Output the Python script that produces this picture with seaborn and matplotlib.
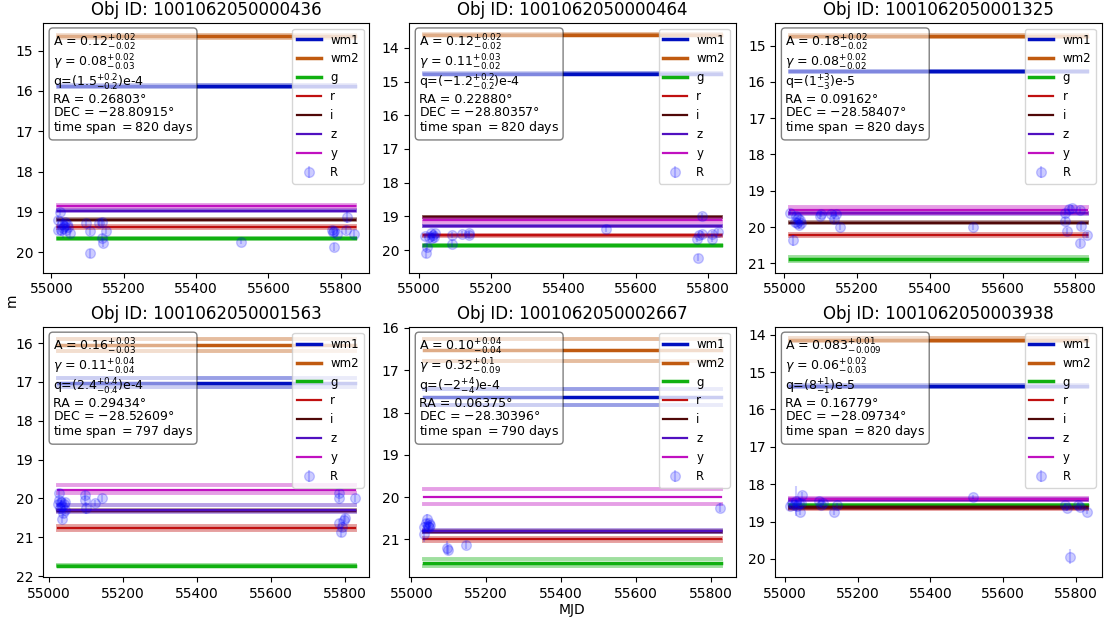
import numpy as np
import pandas as pd
import matplotlib
matplotlib.use("Agg")
import matplotlib.pyplot as plt
import seaborn as sns

# ---- object metadata -------------------------------------------------------
obj_ids = ["1001062050000436", "1001062050000464", "1001062050001325",
           "1001062050001563", "1001062050002667", "1001062050003938"]
ra_deg = [0.26803, 0.22880, 0.09162, 0.29434, 0.06375, 0.16779]
dec_deg = [-28.80915, -28.80357, -28.58407, -28.52609, -28.30396, -28.09734]
span_days = [820, 820, 820, 797, 790, 820]
A_txt = [r"0.12^{+0.02}_{-0.02}", r"0.12^{+0.02}_{-0.02}", r"0.18^{+0.02}_{-0.02}",
         r"0.16^{+0.03}_{-0.03}", r"0.10^{+0.04}_{-0.04}", r"0.083^{+0.01}_{-0.009}"]
gamma_txt = [r"0.08^{+0.02}_{-0.03}", r"0.11^{+0.03}_{-0.02}", r"0.08^{+0.02}_{-0.02}",
             r"0.11^{+0.04}_{-0.04}", r"0.32^{+0.1}_{-0.09}", r"0.06^{+0.02}_{-0.03}"]
q_txt = [r"(1.5^{+0.2}_{-0.2})", r"(-1.2^{+0.2}_{-0.2})", r"(1^{+3}_{-3})",
         r"(2.4^{+0.4}_{-0.4})", r"(-2^{+4}_{-4})", r"(8^{+1}_{-1})"]
q_exp = ["e-4", "e-4", "e-5", "e-4", "e-4", "e-5"]

# model time range per object (MJD)
t_start = [55018, 55015, 55016, 55024, 55034, 55015]
t_end = [55838, 55835, 55832, 55826, 55827, 55830]

# ---- band model levels: median, bright bound, faint bound ------------------
bands = ["wm1", "wm2", "g", "r", "i", "z", "y"]
band_colors = ["#0010c0", "#c05a10", "#10b010", "#c01010", "#500808", "#5010c0", "#c010c0"]
band_lw = [2.5, 2.5, 2.5, 1.6, 1.6, 1.6, 1.6]

mid_436 = [15.88, 14.645, 19.66, 19.37, 19.19, 18.97, 18.86]
lo_436 = [15.86, 14.60, 19.65, 19.35, 19.18, 18.96, 18.82]
hi_436 = [15.90, 14.68, 19.67, 19.39, 19.20, 18.98, 18.89]

mid_464 = [14.77, 13.61, 19.86, 19.56, 19.02, 19.29, 19.12]
lo_464 = [14.75, 13.59, 19.85, 19.55, 19.01, 19.28, 19.07]
hi_464 = [14.79, 13.63, 19.87, 19.57, 19.03, 19.30, 19.17]

mid_1325 = [15.71, 14.73, 20.89, 20.22, 19.88, 19.62, 19.53]
lo_1325 = [15.69, 14.69, 20.84, 20.20, 19.87, 19.61, 19.44]
hi_1325 = [15.73, 14.76, 20.94, 20.24, 19.89, 19.63, 19.62]

mid_1563 = [17.02, 16.05, 21.73, 20.77, 20.32, 20.30, 19.77]
lo_1563 = [16.90, 15.89, 21.72, 20.72, 20.31, 20.17, 19.65]
hi_1563 = [17.13, 16.21, 21.74, 20.82, 20.33, 20.36, 19.87]

mid_2667 = [17.63, 16.51, 21.56, 21.00, 20.82, 20.80, 20.00]
lo_2667 = [17.45, 16.25, 21.46, 20.96, 20.81, 20.78, 19.82]
hi_2667 = [17.83, 16.79, 21.63, 21.04, 20.83, 20.82, 20.17]

mid_3938 = [15.38, 14.15, 18.56, 18.65, 18.62, 18.41, 18.39]
lo_3938 = [15.36, 14.09, 18.55, 18.64, 18.61, 18.40, 18.37]
hi_3938 = [15.40, 14.18, 18.57, 18.66, 18.63, 18.42, 18.41]

# ---- R-band photometry -----------------------------------------------------
tR_436 = [55019, 55018, 55025, 55027, 55030, 55033, 55036, 55038, 55040, 55043, 55045,
          55050, 55095, 55106, 55106, 55132, 55140, 55140, 55142, 55150, 55523, 55775,
          55778, 55782, 55780, 55790, 55817, 55815, 55837]
mR_436 = [19.21, 19.45, 19.00, 19.45, 19.30, 19.40, 19.35, 19.25, 19.45, 19.30, 19.38,
          19.52, 19.27, 19.48, 20.03, 19.27, 19.25, 19.66, 19.78, 19.48, 19.74, 19.45,
          19.50, 19.47, 19.87, 19.54, 19.12, 19.45, 19.54]
eR_436 = [0.10, 0.10, 0.08, 0.15, 0.10, 0.25, 0.10, 0.08, 0.10, 0.10, 0.10,
          0.10, 0.08, 0.10, 0.12, 0.08, 0.10, 0.10, 0.10, 0.08, 0.06, 0.08,
          0.08, 0.10, 0.10, 0.08, 0.15, 0.10, 0.08]

tR_464 = [55018, 55020, 55022, 55030, 55033, 55036, 55040, 55043, 55045, 55093, 55093,
          55120, 55138, 55140, 55518, 55770, 55773, 55775, 55784, 55784, 55811, 55811, 55827]
mR_464 = [19.57, 20.08, 19.90, 19.60, 19.50, 19.65, 19.55, 19.62, 19.50, 19.55, 19.81,
          19.51, 19.50, 19.55, 19.37, 19.66, 20.22, 19.55, 19.00, 19.51, 19.51, 19.66, 19.46]
eR_464 = [0.08, 0.15, 0.12, 0.10, 0.08, 0.10, 0.08, 0.10, 0.08, 0.08, 0.10,
          0.08, 0.08, 0.08, 0.08, 0.10, 0.10, 0.08, 0.10, 0.08, 0.08, 0.10, 0.08]

tR_1325 = [55016, 55023, 55028, 55032, 55035, 55038, 55041, 55044, 55047, 55097, 55100,
           55127, 55136, 55141, 55153, 55520, 55773, 55773, 55777, 55782, 55791, 55814,
           55816, 55814, 55832]
mR_1325 = [19.60, 20.37, 19.85, 19.70, 19.90, 19.75, 19.95, 19.80, 19.90, 19.70, 19.65,
           19.65, 19.78, 19.65, 20.00, 20.00, 19.60, 19.83, 20.10, 19.49, 19.47, 19.52,
           19.97, 20.44, 20.21]
eR_1325 = [0.08, 0.15, 0.10, 0.08, 0.10, 0.08, 0.10, 0.08, 0.10, 0.08, 0.08,
           0.08, 0.10, 0.08, 0.08, 0.08, 0.08, 0.10, 0.08, 0.08, 0.08, 0.08,
           0.10, 0.12, 0.08]

tR_1563 = [55024, 55026, 55028, 55030, 55032, 55034, 55036, 55038, 55040, 55042, 55044,
           55096, 55096, 55099, 55123, 55144, 55784, 55785, 55785, 55788, 55792, 55797,
           55800, 55826]
mR_1563 = [20.15, 19.85, 20.05, 20.25, 20.10, 20.53, 20.20, 20.38, 20.15, 20.30, 20.10,
           20.04, 19.91, 20.25, 20.12, 20.00, 20.00, 19.87, 20.63, 20.86, 20.73, 20.56,
           20.50, 20.00]
eR_1563 = [0.10, 0.10, 0.10, 0.15, 0.10, 0.10, 0.10, 0.12, 0.10, 0.10, 0.10,
           0.10, 0.10, 0.15, 0.08, 0.08, 0.10, 0.10, 0.10, 0.12, 0.12, 0.10,
           0.10, 0.10]

tR_2667 = [55034, 55035, 55040, 55042, 55044, 55046, 55048, 55050, 55095, 55097, 55146, 55826]
mR_2667 = [20.87, 20.71, 20.62, 20.51, 20.68, 20.62, 20.70, 20.66, 21.20, 21.26, 21.13, 20.25]
eR_2667 = [0.20, 0.12, 0.10, 0.10, 0.10, 0.08, 0.10, 0.08, 0.15, 0.12, 0.10, 0.10]

tR_3938 = [55015, 55020, 55025, 55030, 55035, 55038, 55042, 55045, 55048, 55094, 55100,
           55106, 55135, 55144, 55518, 55771, 55775, 55785, 55807, 55812, 55830]
mR_3938 = [18.59, 18.50, 18.55, 18.45, 18.58, 18.50, 18.74, 18.50, 18.30, 18.45, 18.56,
           18.50, 18.74, 18.56, 18.34, 18.56, 18.65, 19.94, 18.55, 18.60, 18.74]
eR_3938 = [0.06, 0.08, 0.06, 0.40, 0.06, 0.06, 0.08, 0.06, 0.08, 0.06, 0.06,
           0.06, 0.08, 0.06, 0.06, 0.06, 0.06, 0.20, 0.06, 0.06, 0.06]

# magnitude axis ranges (faint, bright)
ylims = [(20.51, 14.31), (20.67, 13.26), (21.26, 14.37),
         (22.02, 15.59), (21.89, 15.98), (20.48, 13.80)]

mids = [mid_436, mid_464, mid_1325, mid_1563, mid_2667, mid_3938]
los = [lo_436, lo_464, lo_1325, lo_1563, lo_2667, lo_3938]
his = [hi_436, hi_464, hi_1325, hi_1563, hi_2667, hi_3938]
tRs = [tR_436, tR_464, tR_1325, tR_1563, tR_2667, tR_3938]
mRs = [mR_436, mR_464, mR_1325, mR_1563, mR_2667, mR_3938]
eRs = [eR_436, eR_464, eR_1325, eR_1563, eR_2667, eR_3938]

# ---- figure ----------------------------------------------------------------
fig, axes = plt.subplots(2, 3, figsize=(11.05, 6.19), dpi=100)
fig.subplots_adjust(left=0.039, right=0.997, top=0.963, bottom=0.068,
                    wspace=0.122, hspace=0.218)

for k, ax in enumerate(axes.flat):
    t_line = [t_start[k], t_end[k]]
    for j, band in enumerate(bands):
        col = band_colors[j]
        # uncertainty envelope of the model level
        for lev in (los[k][j], his[k][j]):
            sns.lineplot(x=t_line, y=[lev, lev], color=col, lw=2.8, alpha=0.4, ax=ax)
        sns.lineplot(x=t_line, y=[mids[k][j]] * 2, color=col, lw=band_lw[j],
                     ax=ax, label=band)

    ax.errorbar(tRs[k], mRs[k], yerr=eRs[k], fmt="o", color="blue", ms=7,
                alpha=0.2, label="R")

    ax.set_ylim(*ylims[k])
    ax.set_xticks([55000, 55200, 55400, 55600, 55800])
    ax.set_title(f"Obj ID: {obj_ids[k]}", fontsize=12)
    ax.legend(loc="upper right", fontsize=8.5)

    info = (f"A = ${A_txt[k]}$\n"
            f"$\\gamma$ = ${gamma_txt[k]}$\n"
            f"q=${q_txt[k]}${q_exp[k]}\n"
            f"RA = {ra_deg[k]:.5f}°\n"
            f"DEC = $-${abs(dec_deg[k]):.5f}°\n"
            f"time span $=${span_days[k]} days")
    ax.text(0.03, 0.96, info, transform=ax.transAxes, va="top", ha="left",
            fontsize=9, linespacing=1.0,
            bbox=dict(boxstyle="round", facecolor="white", alpha=0.5))

axes[1, 1].set_xlabel("MJD", labelpad=2)
fig.text(0.004, 0.515, "m", rotation=90, va="center", ha="left", fontsize=10)

fig.savefig("out.png", dpi=100)
